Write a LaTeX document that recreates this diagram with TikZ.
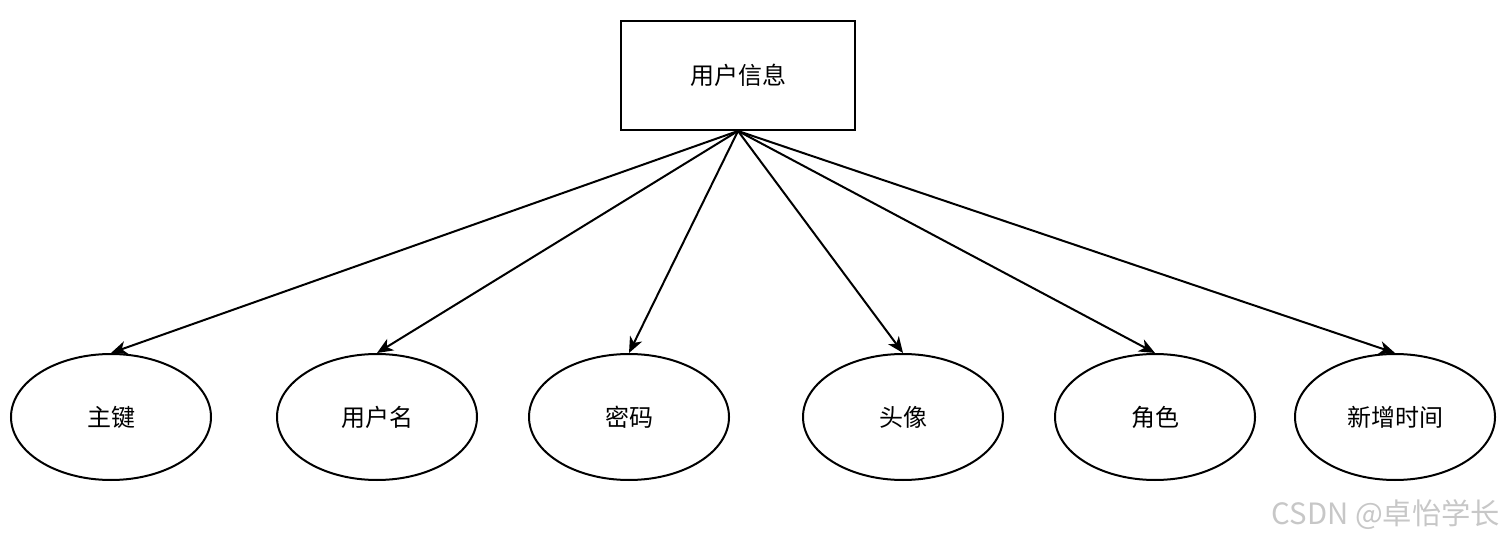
\documentclass[tikz,border=0pt]{standalone}
\usepackage{fontspec}
\setmainfont{Noto Sans CJK SC}
\usetikzlibrary{arrows.meta,shapes.geometric}

\tikzset{
  entity/.style={shape=rectangle,draw=black,line width=1.5pt,minimum width=175.5pt,minimum height=81.75pt,inner sep=0pt},
  attr/.style={shape=ellipse,draw=black,line width=1.5pt,minimum width=150pt,minimum height=94.5pt,inner sep=0pt},
  link/.style={line width=1.5pt,-{Stealth[length=12pt,width=10pt,inset=3.5pt]}}
}

\begin{document}
\begin{tikzpicture}[x=0.75pt,y=-0.75pt,font=\fontsize{18}{21}\selectfont]
\useasboundingbox (0,0) rectangle (1505,541);

\node[entity] (U) at (738,75.5) {用户信息};

\node[attr] (A) at (111,417) {主键};
\node[attr] (B) at (377,417) {用户名};
\node[attr] (C) at (629,417) {密码};
\node[attr] (D) at (903,417) {头像};
\node[attr] (E) at (1155,417) {角色};
\node[attr] (F) at (1395,417) {新增时间};

\draw[link] (U.south) -- (A.north);
\draw[link] (U.south) -- (B.north);
\draw[link] (U.south) -- (C.north);
\draw[link] (U.south) -- (D.north);
\draw[link] (U.south) -- (E.north);
\draw[link] (U.south) -- (F.north);

\node[text=black!22,font=\fontsize{22}{26}\selectfont] (W) at (1386,515) {CSDN @卓怡学长};
\end{tikzpicture}
\end{document}
